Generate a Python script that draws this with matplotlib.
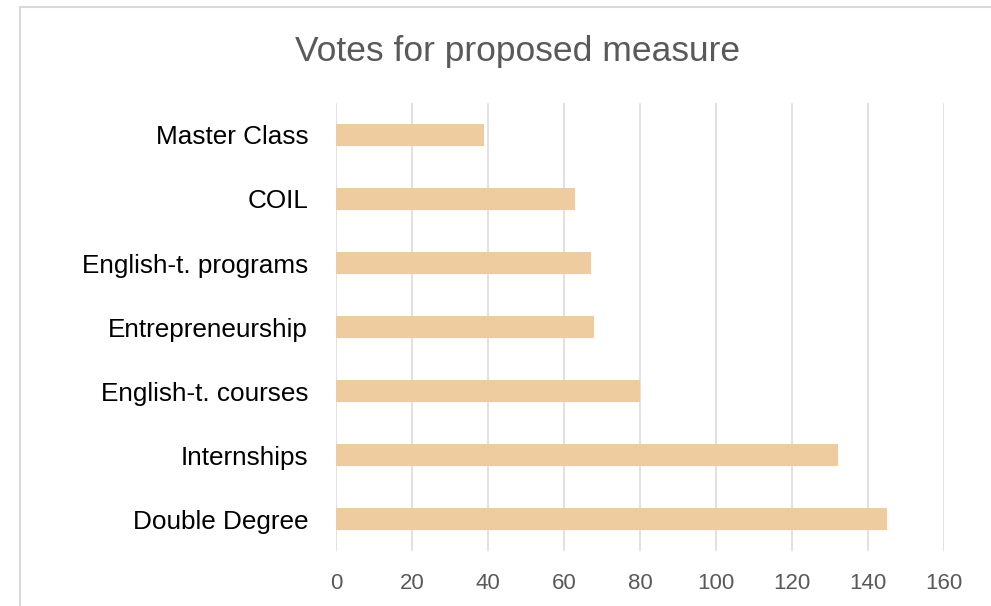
import matplotlib.pyplot as plt
from matplotlib.patches import Rectangle

categories = ['Double Degree', 'Internships', 'English-t. courses', 'Entrepreneurship',
              'English-t. programs', 'COIL', 'Master Class']
votes = [145, 132, 80, 68, 67, 63, 39]
xticks = [0, 20, 40, 60, 80, 100, 120, 140, 160]

plt.rcParams['font.family'] = ['Liberation Sans', 'DejaVu Sans']

W, H = 991, 606
fig = plt.figure(figsize=(W / 100, H / 100), dpi=100)
ax = fig.add_axes([336 / W, (H - 551) / H, (944 - 336) / W, (551 - 103) / H])

ax.barh(range(len(categories)), votes, height=0.35, color='#EFCC9F', zorder=3)
ax.set_xlim(0, 160)
ax.set_ylim(-0.5, len(categories) - 0.5)
ax.set_xticks(xticks)
ax.set_yticks(range(len(categories)))
ax.set_yticklabels(categories)

ax.grid(axis='x', color='#D9D9D9', linewidth=1.1, zorder=0)
for s in ax.spines.values():
    s.set_visible(False)
ax.tick_params(axis='x', length=0, pad=15.5, labelsize=16, labelcolor='#595959')
ax.tick_params(axis='y', length=0, pad=20, labelsize=18.8, labelcolor='black')

fig.text(518 / W, (H - 61.5) / H, 'Votes for proposed measure', ha='center',
         va='baseline', fontsize=25.5, color='#595959')

# chart area border (cut off at right and bottom)
fig.patches.append(Rectangle((19.5 / W, -0.1), 1.2, (H - 6.5) / H + 0.1,
                             transform=fig.transFigure, fill=False,
                             edgecolor='#D9D9D9', linewidth=1.5))

fig.savefig('out.png', dpi=100)
